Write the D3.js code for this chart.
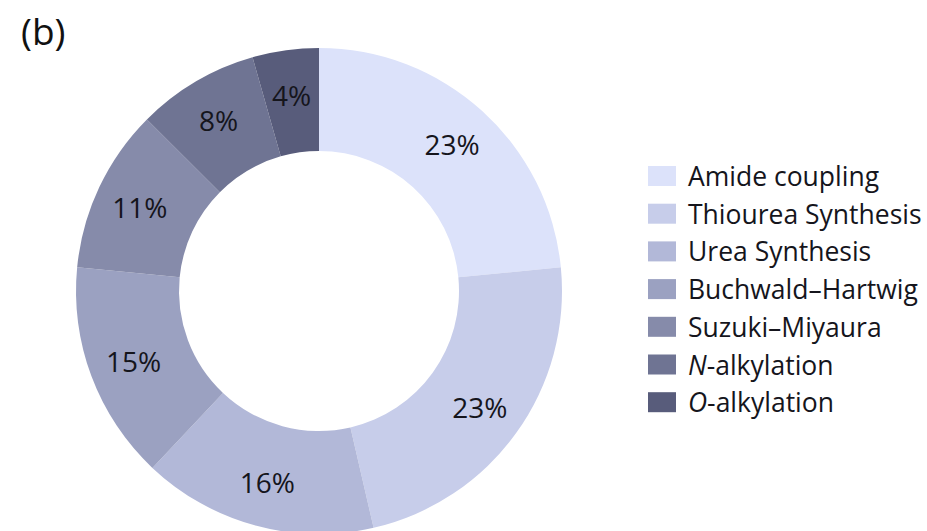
<!DOCTYPE html>
<html>
<head>
<meta charset="utf-8">
<script src="https://cdn.jsdelivr.net/npm/d3@7"></script>
<style>
  html, body { margin: 0; padding: 0; background: #ffffff; }
  svg { display: block; font-family: "Open Sans", "Noto Sans", sans-serif; }
</style>
</head>
<body>
<svg id="chart" width="927" height="531"></svg>
<script>
// Data
const categories = ["Amide coupling", "Thiourea Synthesis", "Urea Synthesis", "Buchwald\u2013Hartwig", "Suzuki\u2013Miyaura", "N-alkylation", "O-alkylation"];
const values = [23.4, 22.9, 15.6, 14.5, 10.9, 8.1, 4.4];
const valueLabels = ["23%", "23%", "16%", "15%", "11%", "8%", "4%"];
const colors = ["#dce2fa", "#c7cdea", "#b2b8d8", "#9ba1c1", "#868baa", "#6f7493", "#585c7b"];
const panelLabel = "(b)";

const svg = d3.select("#chart");
const cx = 319, cy = 291, outerR = 243, innerR = 140, labelR = 198;

const data = categories.map((c, i) => ({ name: c, value: values[i], label: valueLabels[i], color: colors[i] }));

const pie = d3.pie().value(d => d.value).sort(null);
const arc = d3.arc().innerRadius(innerR).outerRadius(outerR);
const labelArc = d3.arc().innerRadius(labelR).outerRadius(labelR);

const g = svg.append("g").attr("transform", `translate(${cx},${cy})`);
const arcs = pie(data);

g.selectAll("path.slice").data(arcs).enter().append("path")
  .attr("class", "slice")
  .attr("d", arc)
  .attr("fill", d => d.data.color);

g.selectAll("text.pct").data(arcs).enter().append("text")
  .attr("class", "pct")
  .attr("transform", d => `translate(${labelArc.centroid(d)})`)
  .attr("text-anchor", "middle")
  .attr("dominant-baseline", "central")
  .attr("font-size", 28)
  .attr("fill", "#15151c")
  .text(d => d.data.label);

// Panel label
svg.append("text")
  .attr("x", 21).attr("y", 45)
  .attr("font-size", 37)
  .attr("fill", "#111")
  .text(panelLabel);

// Legend
const legend = svg.append("g").attr("transform", "translate(648,176)");
const rowH = 37.7;
const rows = legend.selectAll("g.row").data(data).enter().append("g")
  .attr("class", "row")
  .attr("transform", (d, i) => `translate(0,${i * rowH})`);
rows.append("rect")
  .attr("x", 0).attr("y", -10)
  .attr("width", 28).attr("height", 20)
  .attr("fill", d => d.color);
rows.append("text")
  .attr("x", 40).attr("y", 0)
  .attr("dominant-baseline", "central")
  .attr("font-size", 26.5)
  .attr("fill", "#15151c")
  .each(function(d) {
    const t = d3.select(this);
    const m = d.name.match(/^([NO])(-.*)$/);
    if (m) {
      t.append("tspan").attr("font-style", "italic").text(m[1]);
      t.append("tspan").text(m[2]);
    } else {
      t.text(d.name);
    }
  });
</script>
</body>
</html>
